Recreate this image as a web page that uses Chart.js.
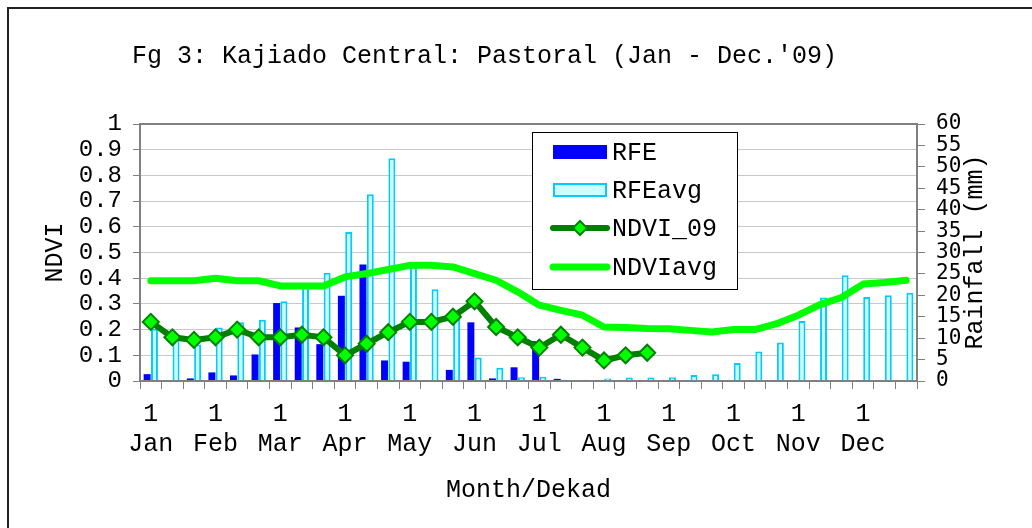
<!DOCTYPE html>
<html>
<head>
<meta charset="utf-8">
<script src="https://cdn.jsdelivr.net/npm/chart.js@4"></script>
<style>
  html, body { margin: 0; padding: 0; background: #fff; }
  #wrap { position: relative; width: 1032px; height: 528px; }
</style>
</head>
<body>
<div id="wrap"><canvas id="chart" width="1032" height="528"></canvas></div>
<script>
// dekads, 3 per month
const months = ["Jan", "Feb", "Mar", "Apr", "May", "Jun", "Jul", "Aug", "Sep", "Oct", "Nov", "Dec"];
const dekads = ["1", "2", "3"];

// rainfall (mm), right axis
const rfe = [1.6, 0, 0.6, 2.0, 1.3, 6.2, 18.2, 12.5, 8.6, 19.9, 27.2, 4.8,
             4.5, 0, 2.6, 13.7, 0.6, 3.2, 9.3, 0.5, 0, 0, 0, 0,
             0, 0, 0, 0, 0, 0, 0, 0, 0, 0, 0, 0];
const rfeAvg = [12.2, 10.3, 8.5, 12.5, 13.7, 14.3, 18.6, 22.0, 25.3, 34.8, 43.6, 52.0,
                26.7, 21.4, 14.5, 5.5, 3.1, 0.9, 1.0, 0.3, 0.3, 0.6, 0.8, 0.8,
                0.9, 1.4, 1.6, 4.2, 6.9, 9.0, 14.0, 19.5, 24.7, 19.6, 20.0, 20.6];

// NDVI, left axis
const ndvi09 = [0.23, 0.17, 0.16, 0.17, 0.20, 0.17, 0.17, 0.18, 0.17, 0.10, 0.145, 0.19,
                0.23, 0.23, 0.25, 0.31, 0.21, 0.17, 0.13, 0.18, 0.13, 0.08, 0.10, 0.11,
                null, null, null, null, null, null, null, null, null, null, null, null];
const ndviAvg = [0.39, 0.39, 0.39, 0.40, 0.39, 0.39, 0.37, 0.37, 0.37, 0.405, 0.418, 0.434,
                 0.45, 0.45, 0.444, 0.418, 0.392, 0.347, 0.295, 0.275, 0.256, 0.21, 0.208, 0.204,
                 0.203, 0.197, 0.191, 0.20, 0.20, 0.223, 0.256, 0.297, 0.325, 0.377, 0.383, 0.392];

const labels = [];
months.forEach(m => dekads.forEach(d => labels.push([d, m])));

const MONO = "'Liberation Mono', 'Courier New', monospace";

// title, right axis title, legend box and frame
const extras = {
  id: "extras",
  afterDraw(chart) {
    const ctx = chart.ctx;
    const a = chart.chartArea;
    ctx.save();

    // outer border (top / left)
    ctx.strokeStyle = "#222";
    ctx.lineWidth = 2;
    ctx.beginPath();
    ctx.moveTo(8, 528); ctx.lineTo(8, 8); ctx.lineTo(1032, 8);
    ctx.stroke();

    // plot frame
    ctx.strokeStyle = "#808080";
    ctx.lineWidth = 2;
    ctx.strokeRect(a.left, a.top, a.right - a.left, a.bottom - a.top);

    ctx.fillStyle = "#000";
    ctx.font = "25px " + MONO;
    ctx.textBaseline = "middle";
    ctx.textAlign = "left";
    ctx.fillText("Fg 3: Kajiado Central: Pastoral (Jan - Dec.'09)", 132, 56);

    // right axis title, reads bottom to top
    ctx.save();
    ctx.translate(975, 252);
    ctx.rotate(-Math.PI / 2);
    ctx.textAlign = "center";
    ctx.fillText("Rainfall (mm)", 0, 0);
    ctx.restore();

    // legend
    const lx = 532, ly = 132, lw = 205, lh = 157;
    ctx.fillStyle = "#fff";
    ctx.fillRect(lx, ly, lw, lh);
    ctx.strokeStyle = "#000";
    ctx.lineWidth = 1;
    ctx.strokeRect(lx + 0.5, ly + 0.5, lw, lh);
    const ds = chart.data.datasets;
    const rows = [152, 190, 228, 267];
    const sx = 553, sw = 54, tx = 612;
    ds.forEach((d, i) => {
      const y = rows[i];
      if (d.type === "bar") {
        ctx.fillStyle = d.backgroundColor;
        ctx.fillRect(sx, y - 7, sw, 14);
        if (d.borderWidth) {
          ctx.strokeStyle = d.borderColor;
          ctx.lineWidth = 2;
          ctx.strokeRect(sx + 1, y - 6, sw - 2, 12);
        }
      } else {
        ctx.strokeStyle = d.borderColor;
        ctx.lineWidth = d.borderWidth;
        ctx.lineCap = "round";
        ctx.beginPath();
        ctx.moveTo(sx, y); ctx.lineTo(sx + sw, y);
        ctx.stroke();
        if (d.pointRadius) {
          const r = 7;
          ctx.fillStyle = d.pointBackgroundColor;
          ctx.strokeStyle = d.pointBorderColor;
          ctx.lineWidth = 2;
          ctx.beginPath();
          ctx.moveTo(sx + sw / 2, y - r); ctx.lineTo(sx + sw / 2 + r, y);
          ctx.lineTo(sx + sw / 2, y + r); ctx.lineTo(sx + sw / 2 - r, y);
          ctx.closePath();
          ctx.fill(); ctx.stroke();
        }
      }
      ctx.fillStyle = "#000";
      ctx.textAlign = "left";
      ctx.fillText(d.label, tx, y + 1);
    });
    ctx.restore();
  }
};

new Chart(document.getElementById("chart"), {
  data: {
    labels: labels,
    datasets: [
      {
        type: "bar",
        label: "RFE",
        data: rfe,
        yAxisID: "y1",
        backgroundColor: "#0000ff",
        borderWidth: 0,
        barPercentage: 0.95,
        categoryPercentage: 0.68,
        order: 2
      },
      {
        type: "bar",
        label: "RFEavg",
        data: rfeAvg,
        yAxisID: "y1",
        backgroundColor: "#ccffff",
        borderColor: "#00ccff",
        borderWidth: 2,
        barPercentage: 0.95,
        categoryPercentage: 0.68,
        order: 3
      },
      {
        type: "line",
        label: "NDVI_09",
        data: ndvi09,
        yAxisID: "y",
        borderColor: "#008000",
        borderWidth: 6,
        pointStyle: "rectRot",
        pointRadius: 8,
        pointBackgroundColor: "#00ff00",
        pointBorderColor: "#008000",
        pointBorderWidth: 2,
        tension: 0,
        spanGaps: false,
        order: 0
      },
      {
        type: "line",
        label: "NDVIavg",
        data: ndviAvg,
        yAxisID: "y",
        borderColor: "#00ff00",
        borderWidth: 7,
        pointRadius: 0,
        borderCapStyle: "round",
        borderJoinStyle: "round",
        tension: 0,
        order: 1
      }
    ]
  },
  options: {
    responsive: false,
    animation: false,
    layout: { padding: { top: 124, left: 0, right: 0, bottom: 0 } },
    plugins: {
      legend: { display: false },
      title: { display: false },
      tooltip: { enabled: false }
    },
    scales: {
      x: {
        offset: true,
        grid: { offset: true, drawOnChartArea: false, tickLength: 8, color: "#808080" },
        border: { display: false },
        ticks: {
          autoSkip: false,
          maxRotation: 0,
          padding: 10,
          color: "#000",
          font: { family: MONO, size: 25, lineHeight: 1.2 },
          callback: function (v, i) { return i % 3 === 0 ? labels[i] : ""; }
        },
        title: {
          display: true,
          text: "Month/Dekad",
          color: "#000",
          font: { family: MONO, size: 25 },
          padding: { top: 0, bottom: 23 }
        },
        afterFit: s => { s.height = 147; }
      },
      y: {
        position: "left",
        min: 0,
        max: 1,
        ticks: {
          autoSkip: false,
          stepSize: 0.1,
          padding: 11,
          color: "#000",
          font: { family: MONO, size: 24 },
          callback: v => String(Math.round(v * 10) / 10)
        },
        grid: { color: "#c8c8c8", tickColor: "#808080", tickLength: 7, lineWidth: 1 },
        border: { display: false },
        title: {
          display: true,
          text: "NDVI",
          color: "#000",
          font: { family: MONO, size: 25 },
          padding: { top: 40, bottom: 0 }
        },
        afterFit: s => { s.width = 140; }
      },
      y1: {
        position: "right",
        min: 0,
        max: 60,
        ticks: {
          autoSkip: false,
          stepSize: 5,
          padding: 11,
          color: "#000",
          font: { family: "'DejaVu Sans Mono', monospace", size: 21 }
        },
        grid: { drawOnChartArea: false, tickColor: "#808080", tickLength: 8 },
        border: { display: false },
        afterFit: s => { s.width = 115; }
      }
    }
  },
  plugins: [extras]
});
</script>
</body>
</html>
